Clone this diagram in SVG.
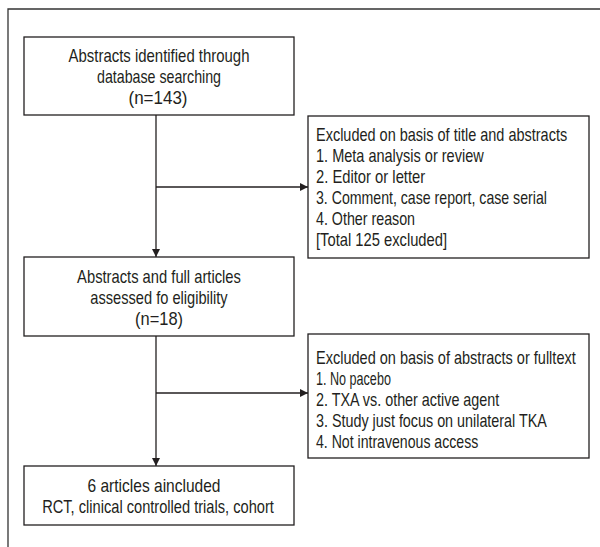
<svg xmlns="http://www.w3.org/2000/svg" width="600" height="547" viewBox="0 0 600 547">
<defs>
<marker id="ah" viewBox="0 0 10 10" refX="10" refY="5" markerWidth="8" markerHeight="8" markerUnits="userSpaceOnUse" orient="auto">
<path d="M0,0 L10,5 L0,10 Z" fill="#231f20"/>
</marker>
<style>
.box{fill:#fff;stroke:#231f20;stroke-width:1.3}
.t{font-family:"Liberation Sans","DejaVu Sans",sans-serif;font-size:18.5px;fill:#231f20}
.c{text-anchor:middle}
.ln{fill:none;stroke:#231f20;stroke-width:1.3}
</style>
</defs>
<rect width="600" height="547" fill="#fff"/>
<path d="M600,9 H8 V547" fill="none" stroke="#333" stroke-width="1.3"/>
<g id="connectors">
<line class="ln" x1="156" y1="115" x2="156" y2="257" marker-end="url(#ah)"/>
<line class="ln" x1="156" y1="187" x2="308" y2="187" marker-end="url(#ah)"/>
<line class="ln" x1="156" y1="336" x2="156" y2="466" marker-end="url(#ah)"/>
<line class="ln" x1="156" y1="393" x2="308" y2="393" marker-end="url(#ah)"/>
</g>
<g id="n1">
<rect class="box" x="24" y="37" width="270" height="78"/>
<text class="t c" transform="translate(159,62) scale(0.78,1)" textLength="232" lengthAdjust="spacingAndGlyphs">Abstracts identified through</text>
<text class="t c" transform="translate(159,83) scale(0.78,1)" textLength="159" lengthAdjust="spacingAndGlyphs">database searching</text>
<text class="t c" transform="translate(158,104) scale(0.78,1)" textLength="75.6" lengthAdjust="spacingAndGlyphs">(n=143)</text>
</g>
<g id="n2">
<rect class="box" x="308" y="116" width="281" height="142"/>
<text class="t" transform="translate(316,141) scale(0.78,1)" textLength="322" lengthAdjust="spacingAndGlyphs">Excluded on basis of title and abstracts</text>
<text class="t" transform="translate(316,162) scale(0.78,1)" textLength="215" lengthAdjust="spacingAndGlyphs">1. Meta analysis or review</text>
<text class="t" transform="translate(316,183) scale(0.78,1)" textLength="140" lengthAdjust="spacingAndGlyphs">2. Editor or letter</text>
<text class="t" transform="translate(316,204) scale(0.78,1)" textLength="296" lengthAdjust="spacingAndGlyphs">3. Comment, case report, case serial</text>
<text class="t" transform="translate(316,225) scale(0.78,1)" textLength="127" lengthAdjust="spacingAndGlyphs">4. Other reason</text>
<text class="t" transform="translate(316,246) scale(0.78,1)" textLength="168" lengthAdjust="spacingAndGlyphs">[Total 125 excluded]</text>
</g>
<g id="n3">
<rect class="box" x="24" y="257" width="270" height="79"/>
<text class="t c" transform="translate(159,283) scale(0.78,1)" textLength="210" lengthAdjust="spacingAndGlyphs">Abstracts and full articles</text>
<text class="t c" transform="translate(159,304) scale(0.78,1)" textLength="176" lengthAdjust="spacingAndGlyphs">assessed fo eligibility</text>
<text class="t c" transform="translate(159,325) scale(0.78,1)" textLength="61.5" lengthAdjust="spacingAndGlyphs">(n=18)</text>
</g>
<g id="n4">
<rect class="box" x="308" y="334" width="281" height="124"/>
<text class="t" transform="translate(316,364) scale(0.78,1)" textLength="333" lengthAdjust="spacingAndGlyphs">Excluded on basis of abstracts or fulltext</text>
<text class="t" transform="translate(316,385) scale(0.78,1)" textLength="96" lengthAdjust="spacingAndGlyphs">1. No pacebo</text>
<text class="t" transform="translate(316,406) scale(0.78,1)" textLength="235" lengthAdjust="spacingAndGlyphs">2. TXA vs. other active agent</text>
<text class="t" transform="translate(316,427) scale(0.78,1)" textLength="296" lengthAdjust="spacingAndGlyphs">3. Study just focus on unilateral TKA</text>
<text class="t" transform="translate(316,448) scale(0.78,1)" textLength="208" lengthAdjust="spacingAndGlyphs">4. Not intravenous access</text>
</g>
<g id="n5">
<rect class="box" x="24" y="466" width="270" height="59"/>
<text class="t c" transform="translate(154,492) scale(0.78,1)" textLength="170.5" lengthAdjust="spacingAndGlyphs">6 articles aincluded</text>
<text class="t c" transform="translate(158,513) scale(0.78,1)" textLength="297" lengthAdjust="spacingAndGlyphs">RCT, clinical controlled trials, cohort</text>
</g>
</svg>
